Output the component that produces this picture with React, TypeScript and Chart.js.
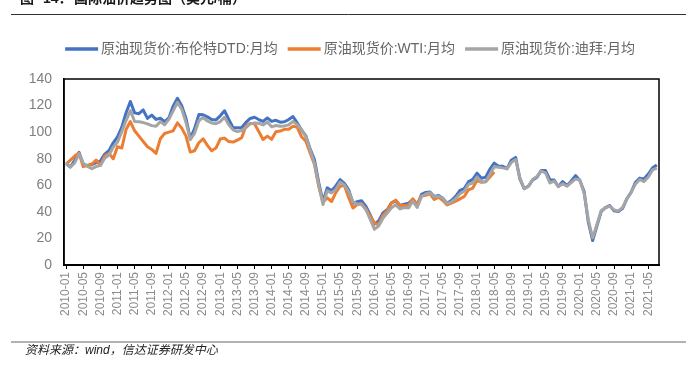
import React, { useEffect, useRef } from "react";
import { Chart, registerables } from "chart.js";
Chart.register(...registerables);

// Monthly categories 2010-01 .. 2021-07
const categories: string[] = [];
for (let y = 2010; y <= 2021; y++) {
  for (let m = 1; m <= 12; m++) {
    if (y === 2021 && m > 7) break;
    categories.push(`${y}-${String(m).padStart(2, "0")}`);
  }
}

const seriesNames = ["原油现货价:布伦特DTD:月均", "原油现货价:WTI:月均", "原油现货价:迪拜:月均"];
const seriesColors = ["#4472C4", "#ED7D31", "#A5A5A5"];

const brentDTD = [
  76.2, 73.8, 78.8, 84.8, 75.9, 74.7, 75.6, 77.1, 78.2, 83.5, 86.1, 92.0,
  96.5, 103.7, 114.6, 123.1, 114.5, 113.9, 116.7, 110.4, 112.8, 109.6, 110.5, 107.9,
  110.7, 119.6, 125.5, 119.8, 110.3, 95.2, 102.6, 113.2, 113.0, 111.5, 109.5, 109.2,
  112.3, 116.1, 109.5, 103.3, 103.3, 103.3, 107.4, 110.3, 111.2, 109.5, 108.1, 110.7,
  108.1, 108.9, 107.5, 107.8, 109.5, 111.8, 106.8, 101.6, 97.1, 87.4, 79.4, 62.3,
  47.8, 58.1, 55.9, 59.5, 64.3, 61.5, 56.6, 46.5, 47.6, 48.4, 44.3, 38.0,
  30.8, 33.2, 39.1, 41.6, 46.8, 48.3, 44.9, 45.8, 46.6, 49.3, 45.0, 53.1,
  54.6, 55.0, 51.6, 52.3, 50.3, 46.4, 48.5, 51.7, 56.2, 57.5, 62.7, 64.4,
  69.1, 65.3, 66.0, 72.1, 76.7, 74.4, 74.3, 72.5, 78.9, 81.0, 64.8, 57.4,
  59.4, 64.0, 66.1, 71.2, 71.1, 64.2, 63.9, 59.0, 62.8, 59.7, 63.2, 67.3,
  63.6, 55.5, 32.0, 18.4, 29.4, 40.3, 43.2, 44.7, 40.9, 40.2, 42.7, 49.9,
  54.8, 62.3, 65.4, 64.8, 68.5, 73.1, 75.2,
];

const wti = [
  76.0, 79.0, 82.0, 84.3, 74.0, 75.0, 76.0, 79.0, 75.0, 82.0, 84.0, 80.0,
  89.0, 88.0, 102.0, 108.0, 101.0, 97.0, 93.0, 89.0, 87.0, 84.0, 95.0, 99.0,
  100.0, 101.0, 107.0, 103.0, 97.0, 85.0, 86.0, 92.0, 95.0, 90.0, 86.0, 88.0,
  94.8, 95.5, 92.9, 92.5, 94.0, 95.8, 104.6, 106.6, 106.3, 100.5, 94.5, 97.0,
  94.6, 100.3, 100.8, 102.1, 102.2, 104.5, 103.6, 96.5, 93.2, 84.4, 75.8, 59.3,
  47.2, 50.6, 47.8, 54.5, 59.3, 59.8, 50.9, 42.9, 45.5, 46.2, 42.4, 37.2,
  31.7, 30.3, 37.5, 40.8, 46.7, 48.8, 44.7, 44.7, 45.2, 49.8, 45.7, 52.0,
  52.5, 53.5, 49.3, 51.1, 48.5, 45.2, 46.6, 48.0, 49.8, 51.6, 56.6, 57.9,
  63.7, 62.2, 62.7, 66.3, 70.0,
];

const dubai = [
  76.7, 73.7, 76.8, 83.6, 76.5, 74.2, 72.5, 74.1, 75.0, 80.3, 82.8, 88.8,
  92.4, 100.3, 108.7, 116.2, 108.0, 107.8, 107.2, 106.2, 104.9, 104.5, 107.9, 105.5,
  109.6, 116.0, 122.5, 117.3, 107.3, 94.3, 99.1, 108.6, 111.0, 108.4, 106.9, 106.3,
  107.9, 111.2, 105.6, 101.7, 100.4, 101.2, 103.5, 106.2, 106.9, 106.7, 105.4, 107.7,
  104.0, 105.0, 104.4, 104.7, 105.5, 108.1, 105.6, 101.8, 96.7, 86.7, 76.4, 60.2,
  45.5, 55.8, 54.2, 57.0, 62.5, 60.2, 55.3, 47.6, 45.8, 45.7, 41.8, 34.7,
  26.9, 29.3, 35.2, 39.1, 43.0, 45.3, 42.2, 43.3, 43.0, 48.0, 43.3, 51.3,
  53.4, 54.4, 51.3, 51.7, 50.4, 46.2, 47.4, 50.0, 53.6, 55.5, 60.7, 61.6,
  66.3, 62.6, 62.7, 68.3, 74.0, 73.6, 73.1, 72.5, 77.1, 79.4, 65.6, 57.4,
  59.1, 64.6, 66.7, 70.7, 69.4, 61.8, 63.2, 59.1, 61.1, 59.4, 62.1, 64.8,
  64.2, 54.2, 33.7, 20.4, 30.5, 40.8, 43.3, 44.1, 41.5, 40.7, 43.4, 49.8,
  54.8, 60.9, 64.4, 62.8, 66.3, 71.6, 72.9,
];

const yMin = 0;
const yMax = 140;
const yStep = 20;
const xLabelEvery = 4;

const titleParts = [
  { text: "图", x: 20 },
  { text: "14：", x: 43 },
  { text: "国际油价趋势图（美元/桶）", x: 74 },
];
const sourceText = "资料来源：wind，信达证券研发中心";

const CJK = '"Liberation Sans", "Noto Sans CJK SC", sans-serif';

const framePlugin = {
  id: "frame",
  beforeDatasetsDraw(chart: any) {
    const { ctx, chartArea: a } = chart;
    ctx.save();
    ctx.strokeStyle = "#000";
    ctx.lineWidth = 1.5;
    ctx.strokeRect(a.left, a.top, a.right - a.left, a.bottom - a.top);
    ctx.restore();
  },
};

const legendPlugin = {
  id: "customLegend",
  afterDraw(chart: any) {
    const { ctx } = chart;
    const ds = chart.data.datasets;
    const sw = 33, gap = 3, itemGap = 10, y = 49;
    ctx.save();
    ctx.font = `14px ${CJK}`;
    const widths = ds.map((d: any) => ctx.measureText(d.label).width);
    let total = 0;
    widths.forEach((w: number, i: number) => {
      total += sw + gap + w + (i < widths.length - 1 ? itemGap : 0);
    });
    let x = chart.width / 2 - total / 2;
    ds.forEach((d: any, i: number) => {
      ctx.strokeStyle = d.borderColor;
      ctx.lineWidth = 3.5;
      ctx.lineCap = "butt";
      ctx.beginPath();
      ctx.moveTo(x, y);
      ctx.lineTo(x + sw, y);
      ctx.stroke();
      ctx.fillStyle = "#666";
      ctx.textBaseline = "middle";
      ctx.textAlign = "left";
      ctx.fillText(d.label, x + sw + gap, y);
      x += sw + gap + widths[i] + itemGap;
    });
    ctx.restore();
  },
};

const textPlugin = {
  id: "pageText",
  afterDraw(chart: any) {
    const { ctx } = chart;
    ctx.save();
    ctx.fillStyle = "#1a1a1a";
    ctx.font = `bold 14px ${CJK}`;
    ctx.textBaseline = "alphabetic";
    ctx.textAlign = "left";
    titleParts.forEach((p) => ctx.fillText(p.text, p.x, 2.5));
    ctx.strokeStyle = "#333";
    ctx.lineWidth = 1;
    ctx.beginPath();
    ctx.moveTo(11, 14.5);
    ctx.lineTo(686, 14.5);
    ctx.stroke();
    ctx.strokeStyle = "#999";
    ctx.lineWidth = 1.5;
    ctx.beginPath();
    ctx.moveTo(11, 342);
    ctx.lineTo(686, 342);
    ctx.stroke();
    ctx.fillStyle = "#222";
    ctx.font = `italic 12px ${CJK}`;
    ctx.textBaseline = "middle";
    ctx.fillText(sourceText, 25, 351);
    ctx.restore();
  },
};

export default function App() {
  const ref = useRef<HTMLCanvasElement>(null);
  useEffect(() => {
    if (!ref.current) return;
    const mk = (i: number, data: number[], order: number) => ({
      label: seriesNames[i],
      data,
      borderColor: seriesColors[i],
      backgroundColor: seriesColors[i],
      borderWidth: 3,
      pointRadius: 0,
      tension: 0,
      fill: false,
      order,
      borderJoinStyle: "round" as const,
    });
    const chart = new Chart(ref.current, {
      type: "line",
      data: {
        labels: categories,
        datasets: [mk(0, brentDTD, 2), mk(1, wti, 1), mk(2, dubai, 0)],
      },
      options: {
        animation: false,
        responsive: false,
        layout: { padding: { left: 0, right: 41, top: 79, bottom: 0 } },
        plugins: { legend: { display: false }, tooltip: { enabled: false }, title: { display: false } },
        scales: {
          x: {
            type: "category",
            offset: true,
            grid: { display: true, drawOnChartArea: false, drawTicks: true, tickLength: 4, color: "#000", lineWidth: 1 },
            border: { display: true, color: "#000", width: 2 },
            ticks: {
              autoSkip: false,
              maxRotation: 90,
              minRotation: 90,
              padding: 3,
              color: "#8c8c8c",
              font: { size: 12, family: CJK },
              callback: (_v: any, i: number) => (i % xLabelEvery === 0 ? categories[i] : null),
            },
            afterFit: (s: any) => { s.height = 101; },
          },
          y: {
            min: yMin,
            max: yMax,
            grid: { display: false, drawTicks: false },
            border: { display: true, color: "#000", width: 1.5 },
            ticks: { stepSize: yStep, padding: 12, color: "#7f7f7f", font: { size: 14, family: CJK } },
            afterFit: (s: any) => { s.width = 64; },
          },
        },
      },
      plugins: [framePlugin, legendPlugin, textPlugin],
    });
    return () => chart.destroy();
  }, []);
  return (
    <div style={{ position: "absolute", left: 0, top: 0, width: 700, height: 366, background: "#fff" }}>
      <canvas ref={ref} width={700} height={366} style={{ display: "block", width: 700, height: 366 }} />
    </div>
  );
}
